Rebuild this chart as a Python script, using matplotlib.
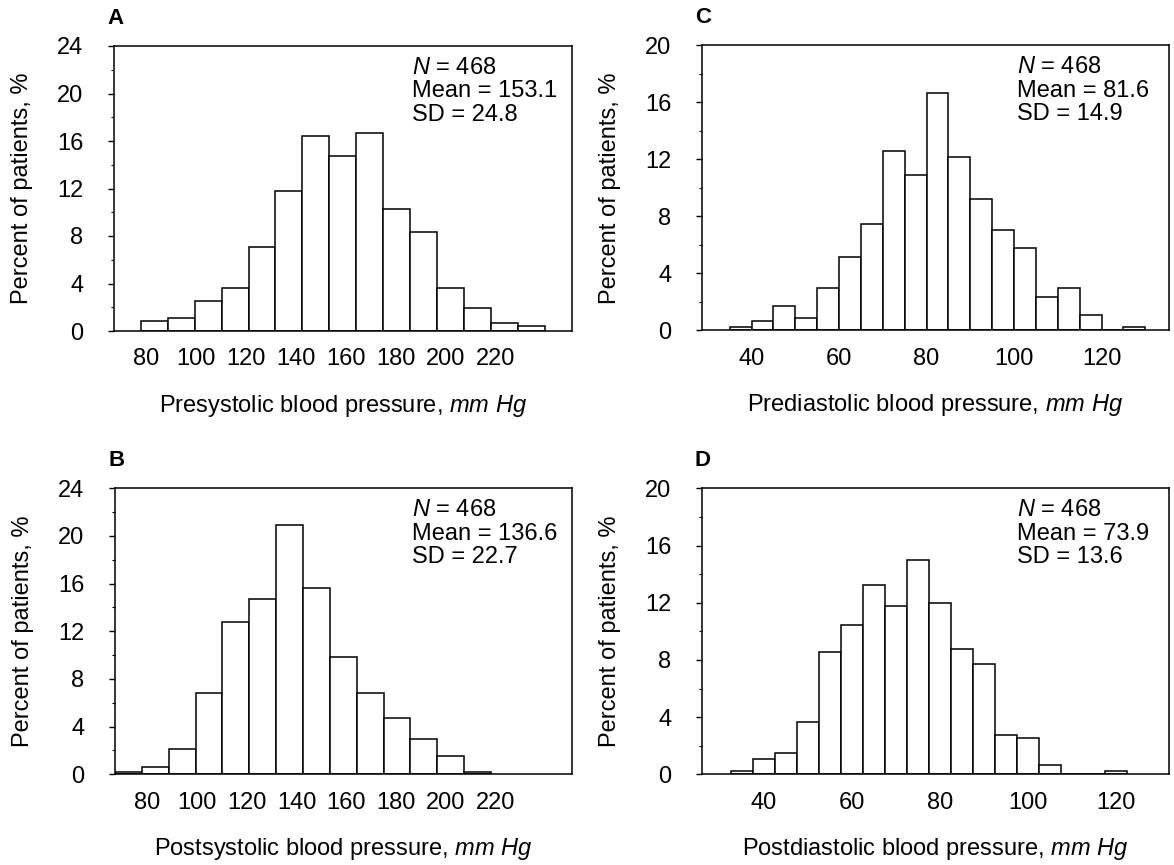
import numpy as np
import matplotlib
matplotlib.use("Agg")
import matplotlib.pyplot as plt
from matplotlib.ticker import MultipleLocator

plt.rcParams['font.family'] = ['Liberation Sans', 'DejaVu Sans']
plt.rcParams['mathtext.fontset'] = 'custom'
plt.rcParams['mathtext.rm'] = 'Liberation Sans'
plt.rcParams['mathtext.it'] = 'Liberation Sans:italic'

# ---- data (percent of patients per bin) ----
pre_sys = [0.85, 1.07, 2.56, 3.63, 7.05, 11.75, 16.45, 14.74, 16.67, 10.26,
           8.33, 3.63, 1.92, 0.64, 0.43]
post_sys = [0.21, 0.64, 2.14, 6.84, 12.82, 14.74, 20.94, 15.60, 9.83, 6.84,
            4.70, 2.99, 1.50, 0.21]
pre_dia = [0.21, 0.64, 1.71, 0.85, 2.99, 5.13, 7.48, 12.61, 10.90, 16.67,
           12.18, 9.19, 7.05, 5.77, 2.35, 2.99, 1.07, 0.0, 0.21]
post_dia = [0.21, 1.07, 1.50, 3.63, 8.55, 10.47, 13.25, 11.75, 14.96, 11.97,
            8.76, 7.69, 2.78, 2.56, 0.64, 0.0, 0.0, 0.21]

# bin start and width for each histogram (mm Hg)
sys_bins_a = (77.8, 10.8)
sys_bins_b = (67.0, 10.8)
dia_bins_c = (35.0, 5.0)
dia_bins_d = (32.5, 5.0)

sys_ticks = [80, 100, 120, 140, 160, 180, 200, 220]
dia_ticks = [40, 60, 80, 100, 120]

stats = {
    'A': ('468', '153.1', '24.8'),
    'B': ('468', '136.6', '22.7'),
    'C': ('468', '81.6', '14.9'),
    'D': ('468', '73.9', '13.6'),
}

fig = plt.figure(figsize=(11.74, 8.65), dpi=100)
W, H = 1174, 865
FS = 17


def make_ax(l, t, r, b):
    return fig.add_axes([l / W, 1 - b / H, (r - l) / W, (b - t) / H])


panels = [
    ('A', make_ax(114, 46, 571.7, 331), pre_sys, sys_bins_a, (67.0, 250.7), 24,
     sys_ticks, 'Presystolic'),
    ('C', make_ax(701.7, 45.3, 1169, 330.3), pre_dia, dia_bins_c, (28.6, 135.4), 20,
     dia_ticks, 'Prediastolic'),
    ('B', make_ax(115, 488.3, 571.7, 774.3), post_sys, sys_bins_b, (67.0, 250.7), 24,
     sys_ticks, 'Postsystolic'),
    ('D', make_ax(701.7, 488.3, 1169.3, 774.3), post_dia, dia_bins_d, (25.9, 132.2), 20,
     dia_ticks, 'Postdiastolic'),
]

for letter, ax, vals, (start, width), xlim, ymax, ticks, name in panels:
    left = start + width * np.arange(len(vals))
    ax.bar(left, vals, width=width, align='edge', facecolor='white',
           edgecolor='black', linewidth=1.1)
    ax.set_xlim(*xlim)
    ax.set_ylim(0, ymax)
    ax.set_xticks(ticks)
    ax.set_xticklabels([str(t) for t in ticks])
    ax.yaxis.set_major_locator(MultipleLocator(4))
    ax.yaxis.set_minor_locator(MultipleLocator(2))
    ax.tick_params(axis='x', length=0, pad=12.5, labelsize=FS)
    ax.tick_params(axis='y', which='major', length=4, width=1, pad=18,
                   labelsize=FS, direction='out')
    ax.tick_params(axis='y', which='minor', length=2.5, width=0.8, direction='out')
    for sp in ax.spines.values():
        sp.set_linewidth(1.1)

    pw = ax.get_position().width * W
    ph = ax.get_position().height * H
    ax.set_ylabel('Percent of patients, %', fontsize=FS)
    ax.yaxis.set_label_coords(-92 / pw, 0.5)
    ax.yaxis.label.set_va('center')
    ax.set_xlabel(name + r' blood pressure, $mm\ Hg$', fontsize=FS)
    ax.xaxis.set_label_coords(0.5, -75 / ph)
    ax.xaxis.label.set_va('center')

    n, mean, sd = stats[letter]
    xt = 0.650 if letter in 'AB' else 0.674
    ax.text(xt, 0.962, r'$N$ = ' + n + '\nMean = ' + mean + '\nSD = ' + sd,
            transform=ax.transAxes, ha='left', va='top', fontsize=FS,
            linespacing=1.09)
    ax.text(-7 / pw, 1 + 17 / ph, letter,
            transform=ax.transAxes, ha='left', va='bottom', fontsize=16,
            fontweight='bold')

fig.savefig('out.png', dpi=100)
